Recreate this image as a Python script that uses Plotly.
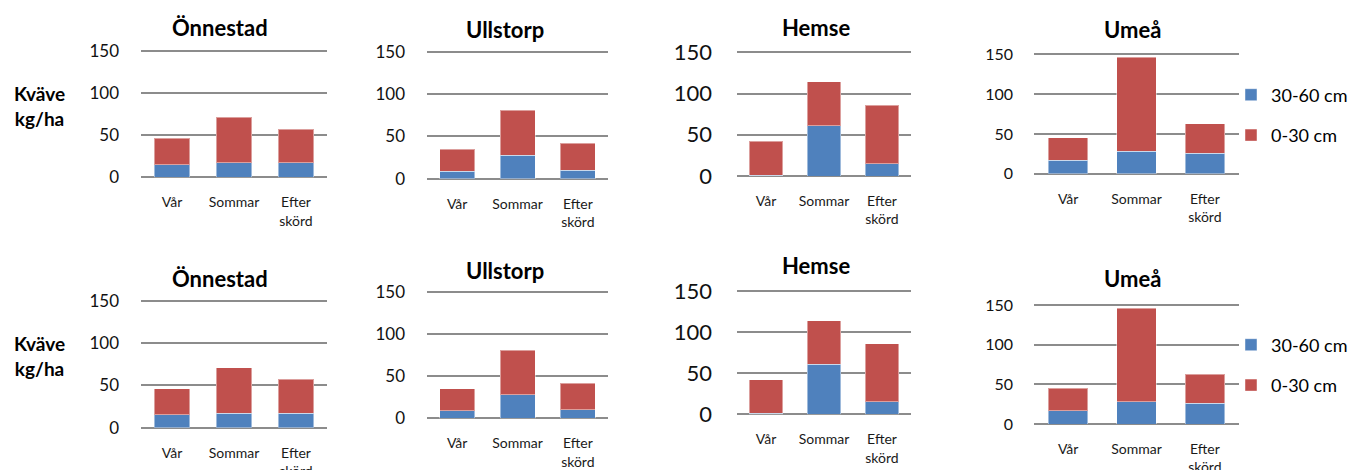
import plotly.graph_objects as go

# ---- data ----
categories = ["Vår", "Sommar", "Efter<br>skörd"]
sites = ["Önnestad", "Ullstorp", "Hemse", "Umeå"]
series_names = ["30-60 cm", "0-30 cm"]
tick_vals = [0, 50, 100, 150]

onnestad_30_60 = [15, 17, 17]
onnestad_0_30 = [31, 54, 40]
ullstorp_30_60 = [9, 28, 10]
ullstorp_0_30 = [26, 53, 32]
hemse_30_60 = [1, 61, 15]
hemse_0_30 = [41, 53, 71]
umea_30_60 = [17, 28, 26]
umea_0_30 = [28, 118, 37]

deep = [onnestad_30_60, ullstorp_30_60, hemse_30_60, umea_30_60]
shallow = [onnestad_0_30, ullstorp_0_30, hemse_0_30, umea_0_30]

y_label = "Kväve<br>kg/ha"

# ---- layout geometry (pixels) ----
W, H = 1352, 470
BLUE, RED = "#4F81BD", "#C0504D"
EDGE = "rgba(255,255,255,0.45)"
GRID = "#8C8C8C"
FONT = "Lato"
YMAX = 152  # small headroom so the 150 gridline is drawn

# x0, x1, y(0), y(150), title x, title y, tick font size, tick standoff
panels = [
    (141, 327, 177.3, 50.7, 220, 28, 17, 21),
    (427, 608, 178.7, 52.0, 505, 29, 17, 21),
    (737, 911, 176.0, 52.3, 816, 27, 22, 24),
    (1034, 1239, 173.7, 54.3, 1132, 30, 16, 20),
    (141, 327, 427.7, 300.7, 220, 278, 17, 21),
    (427, 608, 418.3, 292.3, 505, 270, 17, 21),
    (737, 911, 414.3, 291.0, 816, 265, 22, 24),
    (1034, 1239, 424.0, 305.0, 1132, 278, 16, 20),
]

fig = go.Figure()
annotations = []
layout = {}

for i, (x0, x1, yz, yt, tx, ty, tfs, tso) in enumerate(panels):
    k = i + 1
    s = i % 4
    row = i // 4
    xa = "x" if k == 1 else f"x{k}"
    ya = "y" if k == 1 else f"y{k}"
    leg = "legend" if row == 0 else "legend2"
    show = (s == 3)
    fig.add_trace(go.Bar(
        x=categories, y=deep[s], name=series_names[0], marker_color=BLUE,
        marker_line=dict(width=1, color=EDGE), xaxis=xa, yaxis=ya,
        legend=leg, legendgroup=f"deep{row}", showlegend=show))
    fig.add_trace(go.Bar(
        x=categories, y=shallow[s], name=series_names[1], marker_color=RED,
        marker_line=dict(width=1, color=EDGE), xaxis=xa, yaxis=ya,
        legend=leg, legendgroup=f"shallow{row}", showlegend=show))

    ppu = (yz - yt) / 150.0
    ytop = yz - YMAX * ppu
    xkey = "xaxis" if k == 1 else f"xaxis{k}"
    ykey = "yaxis" if k == 1 else f"yaxis{k}"
    layout[xkey] = dict(
        domain=[x0 / W, x1 / W], anchor=ya, showgrid=False, showline=False,
        ticks="", tickfont=dict(family=FONT, size=14, color="#1a1a1a"),
        ticklabelstandoff=15, fixedrange=True, automargin=False)
    layout[ykey] = dict(
        domain=[1 - yz / H, 1 - ytop / H], anchor=xa, range=[0, YMAX],
        tickvals=tick_vals, showgrid=True, gridcolor=GRID, gridwidth=2,
        zeroline=True, zerolinecolor=GRID, zerolinewidth=2, showline=False,
        ticks="", tickfont=dict(family=FONT, size=tfs, color="#111"),
        ticklabelstandoff=tso, fixedrange=True, automargin=False)
    annotations.append(dict(
        text=f"<b>{sites[s]}</b>", x=tx / W, y=1 - ty / H, xref="paper",
        yref="paper", xanchor="center", yanchor="middle", showarrow=False,
        font=dict(family=FONT, size=22, color="#000")))

annotations.append(dict(text=f"<b>{y_label}</b>", x=39 / W, y=1 - 106 / H,
                        xref="paper", yref="paper", xanchor="center",
                        yanchor="middle", showarrow=False,
                        font=dict(family=FONT, size=19, color="#000")))
annotations.append(dict(text=f"<b>{y_label}</b>", x=39 / W, y=1 - 356 / H,
                        xref="paper", yref="paper", xanchor="center",
                        yanchor="middle", showarrow=False,
                        font=dict(family=FONT, size=19, color="#000")))

legend_common = dict(
    xanchor="left", yanchor="middle", traceorder="grouped",
    tracegroupgap=14, bgcolor="rgba(0,0,0,0)",
    font=dict(family=FONT, size=18, color="#000"), itemclick=False,
    itemdoubleclick=False)

fig.update_layout(
    **layout,
    annotations=annotations,
    barmode="stack",
    bargap=0.42,
    width=W, height=H, autosize=False,
    margin=dict(l=0, r=0, t=0, b=0, pad=0, autoexpand=False),
    paper_bgcolor="white", plot_bgcolor="white",
    font=dict(family=FONT),
    showlegend=True,
    legend=dict(x=1231 / W, y=1 - 115 / H, **legend_common),
    legend2=dict(x=1231 / W, y=1 - 365 / H, **legend_common),
)

fig.write_html(
    "out.html",
    config={"displayModeBar": False},
    post_script="document.body.style.margin='0';document.body.style.overflow='hidden';",
)
